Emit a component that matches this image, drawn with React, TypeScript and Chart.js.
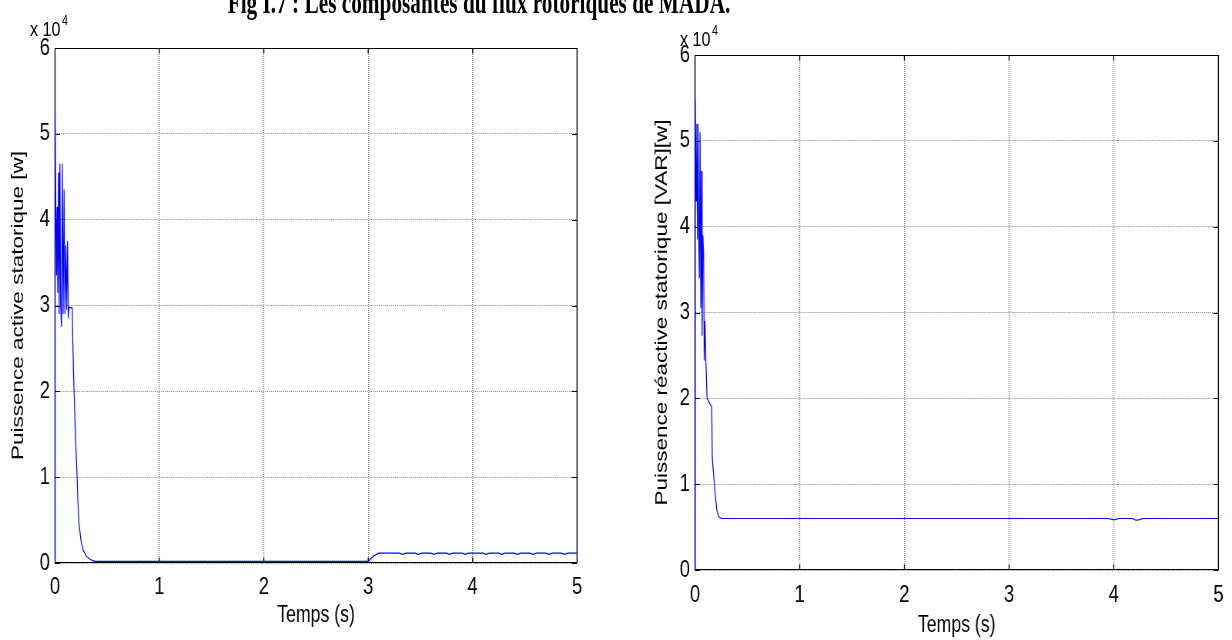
import React, { useEffect, useRef } from "react";
import { Chart, registerables } from "chart.js";

Chart.register(...registerables);

// ---- data ----
const xTickValues = [0, 1, 2, 3, 4, 5];
const yTickValues = [0, 10000, 20000, 30000, 40000, 50000, 60000];

const titleText = "Fig I.7 : Les composantes du flux rotoriques de MADA.";
const xAxisTitle = "Temps (s)";
const activeAxisTitle = "Puissence active statorique [w]";
const reactiveAxisTitle = "Puissence réactive statorique [VAR][w]";

// Puissance active statorique (W) vs temps (s)
const activeTime = [
  0, 0.001, 0.008, 0.014, 0.02, 0.026, 0.034, 0.04, 0.047, 0.054, 0.062, 0.07,
  0.078, 0.087, 0.095, 0.104, 0.112, 0.12, 0.128, 0.135, 0.165, 0.17, 0.18,
  0.19, 0.2, 0.21, 0.22, 0.23, 0.25, 0.27, 0.3, 0.34, 0.38, 3.0, 3.05, 3.1,
  3.3, 3.33, 3.36, 3.45, 3.48, 3.51, 3.6, 3.63, 3.66, 3.75, 3.78, 3.81, 3.9,
  3.93, 3.96, 4.1, 4.13, 4.16, 4.25, 4.28, 4.31, 4.4, 4.43, 4.46, 4.55, 4.58,
  4.61, 4.7, 4.73, 4.76, 4.85, 4.88, 4.91, 5.0,
];
const activeValue = [
  0, 52500, 41500, 33500, 41500, 31500, 45500, 29000, 46500, 30000, 27500,
  46500, 29000, 43500, 29000, 37000, 29500, 37500, 28500, 29800, 29700, 26000,
  21000, 17000, 13500, 10500, 7000, 4500, 2500, 1500, 800, 400, 200, 200, 800,
  1150, 1150, 1000, 1150, 1150, 1000, 1150, 1150, 1000, 1150, 1150, 1000, 1150,
  1150, 1000, 1150, 1150, 1000, 1150, 1150, 1000, 1150, 1150, 1000, 1150, 1150,
  1000, 1150, 1150, 1000, 1150, 1150, 1000, 1150, 1150,
];

// Puissance réactive statorique (VAR) vs temps (s)
const reactiveTime = [
  0, 0.001, 0.006, 0.011, 0.017, 0.023, 0.029, 0.035, 0.041, 0.048, 0.055,
  0.062, 0.068, 0.075, 0.082, 0.088, 0.095, 0.102, 0.115, 0.145, 0.16, 0.165,
  0.193, 0.208, 0.227, 0.25, 3.95, 4.0, 4.05, 4.18, 4.21, 4.24, 4.28, 5.0,
];
const reactiveValue = [
  0, 55000, 50000, 43000, 52000, 38500, 52000, 40000, 34000, 51000, 30500,
  46500, 27300, 39000, 37000, 24400, 29000, 25000, 20000, 19300, 19000, 13000,
  8800, 7000, 6200, 6000, 6000, 5850, 6000, 6000, 5800, 5850, 6000, 6000,
];

// ---- styling helpers ----
// The original figure is horizontally compressed; reproduce by drawing on a wider
// canvas and displaying it squeezed.
const SX = 0.77;
const CSS_W = 616;
const CSS_H = 640;
const INNER_W = Math.round(CSS_W / SX);

const SANS = '"Liberation Sans", Arial, sans-serif';
const TICK_SIZE = 24;
const AXIS_TITLE_SIZE = 22.5;

const boxPlugin = {
  id: "matlabBox",
  beforeDatasetsDraw(chart: any) {
    const { ctx, chartArea, scales } = chart;
    const l = chartArea.left;
    const r = chartArea.right;
    const t = Math.round(chartArea.top) + 0.5;
    const b = Math.round(chartArea.bottom) - 0.5;
    ctx.save();
    ctx.strokeStyle = "#000";
    ctx.setLineDash([]);
    ctx.lineWidth = 1;
    ctx.beginPath();
    ctx.moveTo(l, t);
    ctx.lineTo(r, t);
    ctx.moveTo(l, b);
    ctx.lineTo(r, b);
    const len = 5;
    yTickValues.forEach((v) => {
      const py = Math.round(scales.y.getPixelForValue(v)) + 0.5;
      ctx.moveTo(l, py);
      ctx.lineTo(l + len / SX, py);
      ctx.moveTo(r, py);
      ctx.lineTo(r - len / SX, py);
    });
    ctx.stroke();
    ctx.lineWidth = 1 / SX;
    ctx.beginPath();
    ctx.moveTo(l, t);
    ctx.lineTo(l, b);
    ctx.moveTo(r, t);
    ctx.lineTo(r, b);
    xTickValues.forEach((v) => {
      const px = scales.x.getPixelForValue(v);
      ctx.moveTo(px, b);
      ctx.lineTo(px, b - len);
      ctx.moveTo(px, t);
      ctx.lineTo(px, t + len);
    });
    ctx.stroke();
    ctx.restore();
  },
};

type Layout = {
  plotLeft: number;
  plotRight: number;
  plotTop: number;
  plotBottom: number;
  yTitleCenter: number;
  xTitlePad: number;
  xTickPad: number;
};

function makeChart(
  canvas: HTMLCanvasElement,
  time: number[],
  values: number[],
  yTitle: string,
  lay: Layout
) {
  const points = time.map((t, i) => ({ x: t, y: values[i] }));
  const yWidth = lay.plotLeft / SX;
  const padRight = INNER_W - lay.plotRight / SX;
  const xHeight = CSS_H - lay.plotBottom;
  const yTitlePad = lay.yTitleCenter / SX - (AXIS_TITLE_SIZE * 1.2) / 2;
  return new Chart(canvas, {
    type: "line",
    data: {
      datasets: [
        {
          data: points,
          borderColor: "#0000ff",
          borderWidth: 1.2,
          pointRadius: 0,
          tension: 0,
          fill: false,
          clip: false,
        },
      ],
    },
    options: {
      responsive: false,
      animation: false,
      events: [],
      layout: { padding: { top: lay.plotTop, right: padRight, bottom: 0, left: 0 } },
      plugins: { legend: { display: false }, tooltip: { enabled: false } },
      scales: {
        x: {
          type: "linear",
          min: 0,
          max: 5,
          afterFit: (s: any) => {
            s.height = xHeight;
          },
          afterBuildTicks: (s: any) => {
            s.ticks = xTickValues.map((v) => ({ value: v }));
          },
          ticks: {
            color: "#000",
            font: { family: SANS, size: TICK_SIZE },
            padding: lay.xTickPad,
            maxRotation: 0,
            callback: (v: any) => String(v),
          },
          grid: { color: "#8a8a8a", lineWidth: 1.25, drawTicks: false },
          border: { display: false, dash: [1, 1] },
          title: {
            display: true,
            text: xAxisTitle,
            color: "#000",
            font: { family: SANS, size: 23 },
            padding: { top: 0, bottom: lay.xTitlePad },
          },
        },
        y: {
          type: "linear",
          min: 0,
          max: 60000,
          afterFit: (s: any) => {
            s.width = yWidth;
          },
          afterBuildTicks: (s: any) => {
            s.ticks = yTickValues.map((v) => ({ value: v }));
          },
          ticks: {
            color: "#000",
            font: { family: SANS, size: TICK_SIZE },
            padding: 5 / SX,
            callback: (v: any) => String(Number(v) / 10000),
          },
          grid: { color: "#8a8a8a", lineWidth: 1, drawTicks: false },
          border: { display: false, dash: [1.3, 1.3] },
          title: {
            display: true,
            text: yTitle,
            color: "#000",
            font: { family: SANS, size: AXIS_TITLE_SIZE },
            padding: { top: yTitlePad, bottom: 0 },
          },
        },
      },
    },
    plugins: [boxPlugin],
  } as any);
}

function PowerChart(props: {
  left: number;
  time: number[];
  values: number[];
  yTitle: string;
  lay: Layout;
}) {
  const ref = useRef<HTMLCanvasElement | null>(null);
  useEffect(() => {
    if (!ref.current) return;
    const c = makeChart(ref.current, props.time, props.values, props.yTitle, props.lay);
    return () => c.destroy();
  }, []);
  return (
    <canvas
      ref={ref}
      width={INNER_W}
      height={CSS_H}
      style={{ position: "absolute", left: props.left, top: 0, width: CSS_W, height: CSS_H }}
    />
  );
}

function Exponent(props: { left: number; top: number }) {
  return (
    <div
      style={{
        position: "absolute",
        left: props.left,
        top: props.top,
        fontFamily: SANS,
        fontSize: 21,
        lineHeight: "21px",
        color: "#000",
        whiteSpace: "nowrap",
        transform: `scaleX(${SX})`,
        transformOrigin: "0 0",
      }}
    >
      x 10
      <span style={{ fontSize: 14, position: "relative", top: -11, marginLeft: 2 }}>4</span>
    </div>
  );
}

export default function App() {
  return (
    <div
      style={{
        position: "absolute",
        left: 0,
        top: 0,
        width: 1232,
        height: 640,
        overflow: "hidden",
        background: "#fff",
      }}
    >
      <PowerChart
        left={0}
        time={activeTime}
        values={activeValue}
        yTitle={activeAxisTitle}
        lay={{ plotLeft: 55, plotRight: 577, plotTop: 48, plotBottom: 563, yTitleCenter: 18, xTitlePad: 11, xTickPad: 10 }}
      />
      <PowerChart
        left={616}
        time={reactiveTime}
        values={reactiveValue}
        yTitle={reactiveAxisTitle}
        lay={{ plotLeft: 79, plotRight: 606, plotTop: 55, plotBottom: 570, yTitleCenter: 46, xTitlePad: 1, xTickPad: 11 }}
      />
      <Exponent left={30} top={18} />
      <Exponent left={680} top={28} />
      <div
        style={{
          position: "absolute",
          left: 0,
          top: -14,
          width: 958,
          textAlign: "center",
          fontFamily: '"Liberation Serif", "Times New Roman", serif',
          fontWeight: "bold",
          fontSize: 32,
          lineHeight: "32px",
          color: "#000",
          whiteSpace: "nowrap",
          transform: "scaleX(0.665)",
          transformOrigin: "479px 0",
        }}
      >
        {titleText}
      </div>
    </div>
  );
}
